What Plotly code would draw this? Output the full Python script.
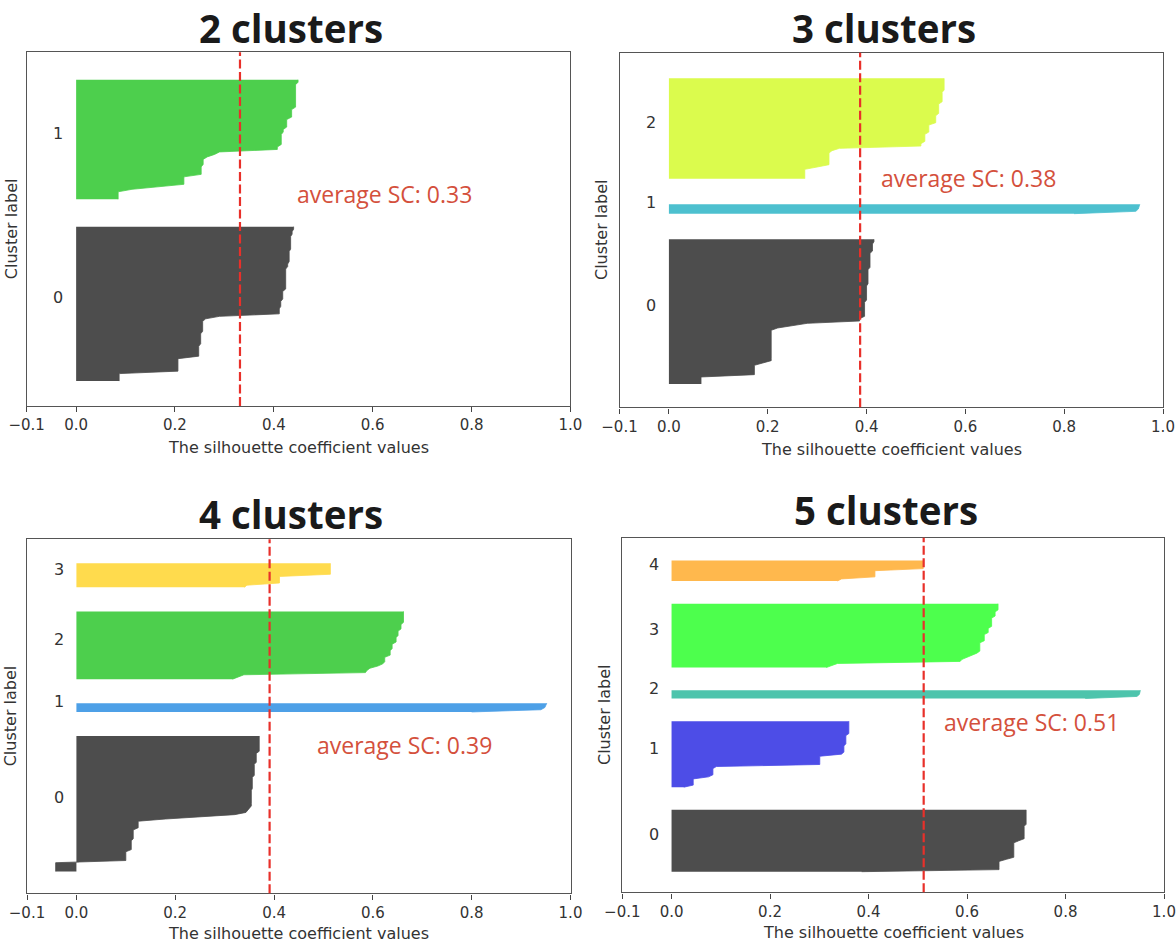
import numpy as np
import plotly.graph_objects as go

# ---------------- data ----------------
n_clusters = [2, 3, 4, 5]
titles = ["2 clusters", "3 clusters", "4 clusters", "5 clusters"]
avg_sc = [0.3315, 0.387, 0.391, 0.512]
avg_text = ["average SC: 0.33", "average SC: 0.38", "average SC: 0.39", "average SC: 0.51"]
x_tick_vals = [-0.1, 0.0, 0.2, 0.4, 0.6, 0.8, 1.0]
x_tick_text = ["\u22120.1", "0.0", "0.2", "0.4", "0.6", "0.8", "1.0"]
x_label = "The silhouette coefficient values"
y_label = "Cluster label"
n_samples = 112

# sorted silhouette values per cluster, as (value, number of samples) runs
k2_c0_vals = [0.087, 0.206, 0.248, 0.252, 0.256, 0.262, 0.29, 0.411, 0.414, 0.418, 0.424, 0.428, 0.431, 0.434, 0.437, 0.44]
k2_c0_counts = [4, 6, 5, 5, 5, 1, 1, 3, 3, 4, 9, 2, 5, 6, 2, 2]
k2_c1_vals = [0.085, 0.113, 0.171, 0.218, 0.253, 0.257, 0.265, 0.28, 0.29, 0.407, 0.415, 0.419, 0.426, 0.436, 0.444, 0.449]
k2_c1_counts = [4, 1, 1, 4, 4, 3, 1, 1, 1, 2, 5, 2, 4, 4, 10, 2]

k3_c0_vals = [0.065, 0.173, 0.19, 0.207, 0.22, 0.25, 0.28, 0.386, 0.396, 0.4, 0.403, 0.407, 0.412, 0.415]
k3_c0_counts = [4, 5, 1, 14, 1, 1, 1, 2, 7, 7, 7, 7, 4, 2]
k3_c1_vals = [0.82, 0.945, 0.95, 0.952, 0.953]
k3_c1_counts = [1, 1, 1, 1, 1]
k3_c2_vals = [0.275, 0.30, 0.324, 0.33, 0.345, 0.51, 0.518, 0.526, 0.54, 0.546, 0.553, 0.557]
k3_c2_counts = [5, 1, 6, 1, 1, 2, 4, 4, 4, 5, 5, 6]

k4_c0_vals = [-0.042, 0.1, 0.111, 0.115, 0.125, 0.18, 0.26, 0.32, 0.343, 0.347, 0.35, 0.354, 0.356, 0.36, 0.364, 0.37]
k4_c0_counts = [5, 5, 5, 5, 4, 1, 1, 1, 1, 1, 1, 8, 6, 6, 5, 8]
k4_c1_vals = [0.8, 0.94, 0.948, 0.95, 0.952]
k4_c1_counts = [1, 1, 1, 1, 1]
k4_c2_vals = [0.316, 0.327, 0.339, 0.585, 0.588, 0.594, 0.61, 0.62, 0.624, 0.635, 0.639, 0.647, 0.651, 0.657, 0.662]
k4_c2_counts = [1, 1, 1, 1, 1, 1, 1, 1, 3, 3, 3, 3, 3, 3, 6]
k4_c3_vals = [0.34, 0.345, 0.411, 0.514]
k4_c3_counts = [1, 1, 4, 6]

k5_c0_vals = [0.386, 0.665, 0.68, 0.695, 0.705, 0.716, 0.72]
k5_c0_counts = [1, 5, 1, 8, 1, 7, 8]
k5_c1_vals = [0.025, 0.044, 0.075, 0.084, 0.091, 0.301, 0.345, 0.35, 0.354, 0.36]
k5_c1_counts = [1, 4, 1, 4, 1, 5, 1, 4, 5, 7]
k5_c2_vals = [0.84, 0.945, 0.95, 0.951, 0.952]
k5_c2_counts = [1, 1, 1, 1, 1]
k5_c3_vals = [0.314, 0.325, 0.337, 0.586, 0.59, 0.6, 0.61, 0.62, 0.626, 0.635, 0.643, 0.65, 0.657, 0.663]
k5_c3_counts = [1, 1, 1, 1, 1, 1, 1, 1, 5, 4, 3, 5, 3, 4]
k5_c4_vals = [0.337, 0.345, 0.413, 0.511]
k5_c4_counts = [1, 1, 4, 5]

panels_data = [
    [(k2_c0_vals, k2_c0_counts), (k2_c1_vals, k2_c1_counts)],
    [(k3_c0_vals, k3_c0_counts), (k3_c1_vals, k3_c1_counts), (k3_c2_vals, k3_c2_counts)],
    [(k4_c0_vals, k4_c0_counts), (k4_c1_vals, k4_c1_counts), (k4_c2_vals, k4_c2_counts),
     (k4_c3_vals, k4_c3_counts)],
    [(k5_c0_vals, k5_c0_counts), (k5_c1_vals, k5_c1_counts), (k5_c2_vals, k5_c2_counts),
     (k5_c3_vals, k5_c3_counts), (k5_c4_vals, k5_c4_counts)],
]

# ---------------- styles / layout ----------------
panel_colors = [
    ["#4d4d4d", "#4dcf4d"],
    ["#4d4d4d", "#4dc0cf", "#dbfb4d"],
    ["#4d4d4d", "#4da0e7", "#4dcf4d", "#ffdb4d"],
    ["#4d4d4d", "#4d4de7", "#4dc4ac", "#4dff4d", "#ffb84d"],
]
W, H = 1176, 944
boxes = [(26.7, 52.3, 570.4, 406.0), (619.5, 52.7, 1163.0, 407.3),
         (27.0, 539.3, 570.5, 893.3), (622.3, 537.7, 1164.0, 892.3)]
title_top = [(291, 0), (884, 0), (291, 486), (886, 482)]
avg_pos = [(295, 194), (879, 178), (315, 745), (942, 722)]
xlab_y = [447, 449, 933, 932]
ylab_x = [11, 601, 10, 604]


def px(x):
    return x / W


def py(y):
    return 1 - y / H


fig = go.Figure()
annotations = []
shapes = []
layout_axes = {}

for p in range(4):
    sfx = "" if p == 0 else str(p + 1)
    xa, ya = "x" + sfx, "y" + sfx
    x0, y0, x1, y1 = boxes[p]
    k = n_clusters[p]
    y_top = n_samples + (k + 1) * 10

    y_lower = 10
    for c, (vals, counts) in enumerate(panels_data[p]):
        sil = np.repeat(np.array(vals, dtype=float), counts)
        n = len(sil)
        ys = np.arange(y_lower, y_lower + n)
        col = panel_colors[p][c]
        fig.add_trace(go.Scatter(
            x=sil, y=ys, mode="lines", fill="tozerox", fillcolor=col,
            line=dict(color=col, width=0.8), xaxis=xa, yaxis=ya,
            hoverinfo="skip", showlegend=False))
        annotations.append(dict(
            x=-0.05, y=y_lower + 0.5 * n, xref=xa, yref=ya, text=str(c),
            showarrow=False, xanchor="left", yanchor="middle", yshift=5,
            font=dict(family="DejaVu Sans", size=16, color="#333333")))
        y_lower += n + 10

    shapes.append(dict(type="line", xref=xa, yref=ya + " domain",
                       x0=avg_sc[p], x1=avg_sc[p], y0=0, y1=1,
                       line=dict(color="#e8302a", width=2.2, dash="9px,3.5px")))

    layout_axes["xaxis" + sfx] = dict(
        domain=[px(x0), px(x1)], anchor=ya, range=[-0.1, 1.0], automargin=False,
        tickmode="array", tickvals=x_tick_vals, ticktext=x_tick_text,
        ticks="outside", ticklen=5, tickwidth=1.2, tickcolor="#444444",
        tickfont=dict(family="DejaVu Sans", size=15, color="#333333"),
        showline=True, mirror=True, linecolor="#555555", linewidth=1.4,
        showgrid=False, zeroline=False, fixedrange=True)
    layout_axes["yaxis" + sfx] = dict(
        domain=[py(y1), py(y0)], anchor=xa, range=[0, y_top], automargin=False,
        showticklabels=False, ticks="",
        showline=True, mirror=True, linecolor="#555555", linewidth=1.4,
        showgrid=False, zeroline=False, fixedrange=True)

    tx, ty = title_top[p]
    annotations.append(dict(
        x=px(tx), y=py(ty), xref="paper", yref="paper", text="<b>" + titles[p] + "</b>",
        showarrow=False, xanchor="center", yanchor="top",
        font=dict(family="Open Sans", size=38.5, color="#1a1a1a")))
    ax_, ay_ = avg_pos[p]
    annotations.append(dict(
        x=px(ax_), y=py(ay_), xref="paper", yref="paper", text=avg_text[p],
        showarrow=False, xanchor="left", yanchor="middle",
        font=dict(family="Open Sans", size=23, color="#d4503c")))
    annotations.append(dict(
        x=px((x0 + x1) / 2), y=py(xlab_y[p]), xref="paper", yref="paper", text=x_label,
        showarrow=False, xanchor="center", yanchor="middle",
        font=dict(family="DejaVu Sans", size=16, color="#333333")))
    annotations.append(dict(
        x=px(ylab_x[p]), y=py((y0 + y1) / 2), xref="paper", yref="paper", text=y_label,
        showarrow=False, xanchor="center", yanchor="middle", textangle=-90,
        font=dict(family="DejaVu Sans", size=16, color="#333333")))

fig.update_layout(
    template="none",
    width=W, height=H, margin=dict(l=0, r=0, t=0, b=0, pad=0, autoexpand=False),
    paper_bgcolor="white", plot_bgcolor="white",
    annotations=annotations, shapes=shapes, showlegend=False,
    **layout_axes)

fig.write_html("out.html", config={"displayModeBar": False},
               post_script="document.body.style.margin='0';document.body.style.overflow='hidden';")
